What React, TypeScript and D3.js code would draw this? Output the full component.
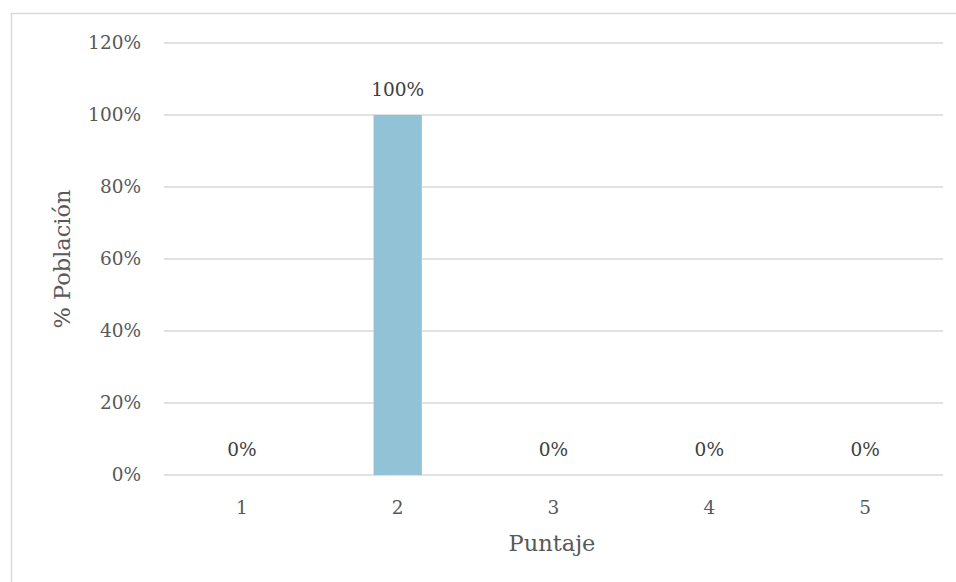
import React from "react";
import * as d3 from "d3";

const categories = ["1", "2", "3", "4", "5"];
const values = [0, 1, 0, 0, 0];
const yTicks = [0, 0.2, 0.4, 0.6, 0.8, 1.0, 1.2];

const W = 956;
const H = 582;
const FONT = "'DejaVu Serif', Georgia, serif";

export default function App() {
  const x = d3.scaleBand<string>().domain(categories).range([164, 943]).padding(0);
  const y = d3.scaleLinear().domain([0, 1.2]).range([475, 43]);
  const barW = x.bandwidth() * 0.31;
  const pct = d3.format(".0%");
  return (
    <svg width={W} height={H} style={{ position: "absolute", left: 0, top: 0 }}>
      <rect x={0} y={0} width={W} height={H} fill="#fff" />
      <rect x={11.5} y={13.5} width={W + 10} height={H + 10} fill="none" stroke="#d9d9d9" strokeWidth={1.5} />
      {yTicks.map((t) => (
        <g key={t}>
          <line x1={164} x2={943} y1={y(t)} y2={y(t)} stroke="#d9d9d9" strokeWidth={1.5} />
          <text x={141} y={y(t)} dy="0.35em" textAnchor="end" fontFamily={FONT} fontSize={18.5} fill="#595959">
            {pct(t)}
          </text>
        </g>
      ))}
      {categories.map((c, i) => {
        const cx = (x(c) as number) + x.bandwidth() / 2;
        return (
          <g key={c}>
            <rect x={cx - barW / 2} y={y(values[i])} width={barW} height={y(0) - y(values[i])} fill="#92c2d5" />
            <text x={cx} y={y(values[i]) - 25} dy="0.35em" textAnchor="middle" fontFamily={FONT} fontSize={18.5} fill="#404040">
              {pct(values[i])}
            </text>
            <text x={cx} y={508} dy="0.35em" textAnchor="middle" fontFamily={FONT} fontSize={18.5} fill="#595959">
              {c}
            </text>
          </g>
        );
      })}
      <text x={552} y={543} dy="0.35em" textAnchor="middle" fontFamily={FONT} fontSize={22.5} fill="#595959">
        Puntaje
      </text>
      <text transform={`translate(62,259) rotate(-90)`} dy="0.35em" textAnchor="middle" fontFamily={FONT} fontSize={22.5} fill="#595959">
        % Población
      </text>
    </svg>
  );
}
